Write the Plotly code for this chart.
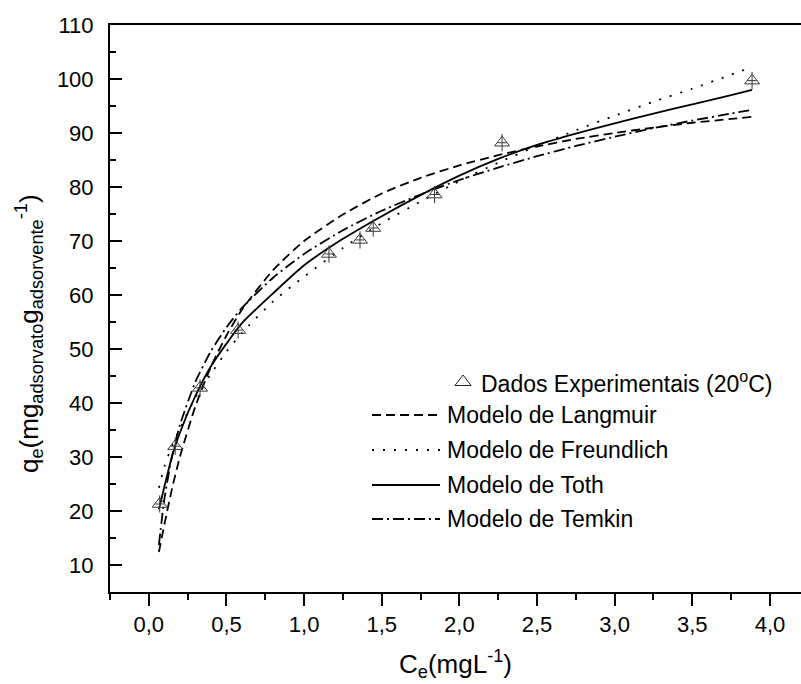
import plotly.graph_objects as go

# Experimental isotherm points at 20 °C
ce_exp = [0.07, 0.17, 0.33, 0.575, 1.16, 1.36, 1.445, 1.84, 2.275, 3.885]
qe_exp = [21.3, 32.0, 42.8, 53.5, 67.6, 70.2, 72.4, 78.6, 88.2, 99.7]
qe_err = [1.6] * len(ce_exp)
ce_err = [0.03] * len(ce_exp)

# Fitted model curves sampled along Ce
ce_fit = [0.065, 0.1, 0.15, 0.2, 0.3, 0.4, 0.5, 0.6, 0.8, 1.0, 1.25, 1.5,
          1.75, 2.0, 2.25, 2.5, 2.75, 3.0, 3.25, 3.5, 3.75, 3.885]
q_langmuir = [12.4, 17.5, 24.2, 30.0, 39.4, 46.7, 52.5, 57.3, 64.6, 70.0, 74.9, 78.8,
              81.7, 84.0, 85.9, 87.5, 88.9, 90.0, 91.0, 91.9, 92.6, 93.0]
q_freundlich = [24.3, 28.2, 32.1, 35.2, 41.0, 45.4, 49.5, 53.0, 58.8, 63.4, 68.7, 73.3,
                77.3, 81.1, 84.5, 87.6, 90.5, 93.2, 95.8, 98.2, 100.8, 102.2]
q_toth = [20.3, 24.5, 30.2, 34.5, 41.3, 46.8, 51.0, 54.8, 60.3, 65.5, 70.4, 74.6,
          78.5, 82.1, 85.2, 87.8, 89.9, 91.8, 93.6, 95.3, 97.0, 98.0]
q_temkin = [13.7, 22.2, 30.2, 35.9, 43.9, 49.6, 54.0, 57.6, 63.2, 67.6, 72.0, 75.6,
            78.6, 81.3, 83.6, 85.7, 87.6, 89.3, 90.9, 92.3, 93.6, 94.3]

model_names = ["Modelo de Langmuir", "Modelo de Freundlich", "Modelo de Toth", "Modelo de Temkin"]
model_values = [q_langmuir, q_freundlich, q_toth, q_temkin]
model_dash = ["9px,5px", "2px,9px", "solid", "11px,4px,2px,4px"]
exp_name = "Dados Experimentais (20<sup>o</sup>C)"

FONT = "Liberation Sans, Arial, sans-serif"
W, H = 801, 684
L, R, T, B = 110, 0, 25, 92

fig = go.Figure()

for name, vals, dash in zip(model_names, model_values, model_dash):
    fig.add_trace(go.Scatter(
        x=ce_fit, y=vals, mode="lines", name=name,
        line=dict(color="black", width=1.8, dash=dash, shape="spline", smoothing=0.6),
        showlegend=False))

fig.add_trace(go.Scatter(
    x=ce_exp, y=qe_exp, mode="markers", name="Dados Experimentais",
    marker=dict(symbol="triangle-up-open", size=13, color="#3a3a3a", line=dict(width=1)),
    error_y=dict(type="data", array=qe_err, visible=True, thickness=1, width=0, color="#3a3a3a"),
    error_x=dict(type="data", array=ce_err, visible=True, thickness=1, width=0, color="#3a3a3a"),
    showlegend=False))

# Legend drawn on a pixel-based overlay axis pair
leg_rows_y = [415, 450, 485, 519]
leg_x0, leg_x1, leg_text_x = 372, 440, 445
for name, dash, yy in zip(model_names, model_dash, leg_rows_y):
    fig.add_trace(go.Scatter(
        x=[leg_x0, leg_x1], y=[yy, yy], mode="lines", xaxis="x2", yaxis="y2",
        line=dict(color="black", width=1.8, dash=dash), showlegend=False, hoverinfo="skip"))
    fig.add_annotation(x=leg_text_x, y=yy, xref="x2", yref="y2", text=name,
                       showarrow=False, xanchor="left", yanchor="middle",
                       font=dict(family=FONT, size=23, color="black"))

fig.add_trace(go.Scatter(
    x=[463], y=[382], mode="markers", xaxis="x2", yaxis="y2",
    marker=dict(symbol="triangle-up-open", size=14, color="#222", line=dict(width=1)),
    showlegend=False, hoverinfo="skip"))
fig.add_annotation(x=479, y=382, xref="x2", yref="y2", text=exp_name,
                   showarrow=False, xanchor="left", yanchor="middle",
                   font=dict(family=FONT, size=23, color="black"))

# Axis titles
fig.add_annotation(x=(455.5 - L) / (W - L - R), y=-(664 - (H - B)) / (H - T - B),
                   xref="paper", yref="paper",
                   text="C<sub>e</sub>(mgL<sup>-1</sup>)", showarrow=False,
                   xanchor="center", yanchor="middle",
                   font=dict(family=FONT, size=26, color="black"))
fig.add_annotation(x=(29 - L) / (W - L - R), y=1 - (334 - T) / (H - T - B),
                   xref="paper", yref="paper", textangle=-90,
                   text="q<sub>e</sub>(mg<sub>adsorvato</sub>g<sub>adsorvente</sub><sup>-1</sup>)",
                   showarrow=False, xanchor="center", yanchor="middle",
                   font=dict(family=FONT, size=26, color="black"))

fig.update_layout(
    width=W, height=H,
    margin=dict(l=L, r=R, t=T, b=B, pad=0),
    plot_bgcolor="white", paper_bgcolor="white",
    separators=",.",
    font=dict(family=FONT, size=22, color="black"),
    xaxis=dict(
        range=[-0.25, 4.2], dtick=0.5, tick0=0, tickformat=".1f",
        showgrid=False, zeroline=False,
        showline=True, linecolor="black", linewidth=2, mirror=True,
        ticks="outside", ticklen=12, tickwidth=2, tickcolor="black",
        minor=dict(dtick=0.25, ticks="outside", ticklen=6, tickwidth=2, tickcolor="black"),
        tickfont=dict(family=FONT, size=22),
    ),
    yaxis=dict(
        range=[5, 110], dtick=10, tick0=0,
        showgrid=False, zeroline=False,
        showline=True, linecolor="black", linewidth=2, mirror=False,
        ticks="inside", ticklen=12, tickwidth=2, tickcolor="black",
        minor=dict(dtick=5, ticks="inside", ticklen=6, tickwidth=2, tickcolor="black"),
        tickfont=dict(family=FONT, size=22),
        ticklabelstandoff=10,
    ),
    xaxis2=dict(overlaying="x", range=[L, W - R], visible=False, fixedrange=True),
    yaxis2=dict(overlaying="y", range=[H - B, T], visible=False, fixedrange=True),
)

fig.write_html("out.html")
